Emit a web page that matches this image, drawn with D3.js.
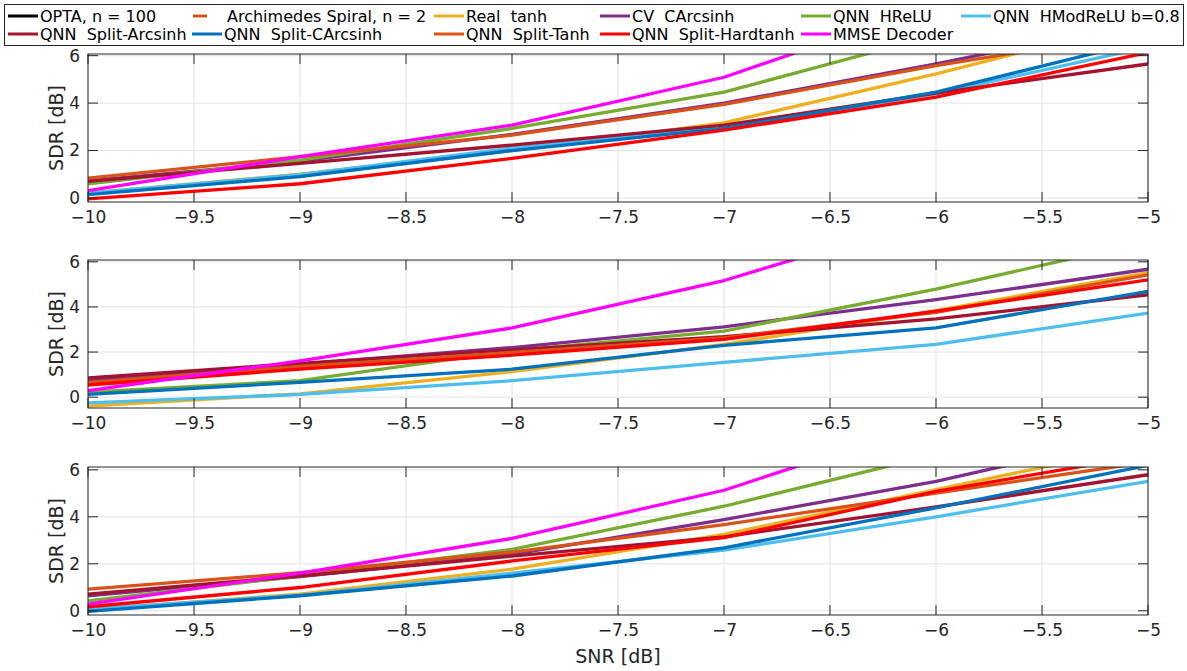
<!DOCTYPE html>
<html>
<head>
<meta charset="utf-8">
<script src="https://cdn.jsdelivr.net/npm/d3@7"></script>
<style>
  body { margin: 0; background: #fff; }
  svg { display: block; font-family: "DejaVu Sans", sans-serif; }
</style>
</head>
<body>
<div id="chart"></div>
<script>
var width = 1187,
  height = 671;

// SNR sample points (dB)
const snr = [-10, -9, -8, -7, -6, -5];
const xTicks = [-10, -9.5, -9, -8.5, -8, -7.5, -7, -6.5, -6, -5.5, -5];
const yTicks = [0, 2, 4, 6];

// SDR values, one row per subplot (top, middle, bottom)
const realTanh = [
  [0.2, 1.0, 2.0, 3.17, 5.23, 7.5],
  [-0.4, 0.15, 1.13, 2.34, 3.84, 5.52],
  [0.04, 0.71, 1.77, 3.25, 5.16, 7.04],
];
const cvCArcsinh = [
  [0.72, 1.55, 2.68, 4.0, 5.65, 7.48],
  [0.73, 1.46, 2.2, 3.12, 4.32, 5.67],
  [0.64, 1.45, 2.4, 3.88, 5.51, 7.54],
];
const qnnHReLU = [
  [0.6, 1.6, 2.93, 4.46, 6.86, 9.0],
  [0.22, 0.73, 2.05, 2.93, 4.79, 6.9],
  [0.42, 1.48, 2.61, 4.45, 6.65, 9.0],
];
const qnnHModReLU = [
  [0.2, 0.98, 2.1, 2.97, 4.39, 6.37],
  [-0.25, 0.12, 0.73, 1.54, 2.34, 3.73],
  [0.07, 0.66, 1.6, 2.58, 4.0, 5.51],
];
const splitArcsinh = [
  [0.7, 1.46, 2.23, 3.07, 4.42, 5.65],
  [0.85, 1.5, 2.1, 2.68, 3.47, 4.54],
  [0.71, 1.48, 2.33, 3.15, 4.42, 5.79],
];
const splitCArcsinh = [
  [0.14, 0.9, 2.0, 2.93, 4.46, 6.66],
  [0.12, 0.66, 1.24, 2.3, 3.07, 4.69],
  [-0.03, 0.64, 1.48, 2.68, 4.38, 6.19],
];
const splitTanh = [
  [0.84, 1.74, 2.65, 3.95, 5.58, 7.02],
  [0.66, 1.36, 1.98, 2.63, 3.76, 5.42],
  [0.92, 1.62, 2.5, 3.67, 5.01, 6.33],
];
const splitHardtanh = [
  [-0.04, 0.6, 1.67, 2.86, 4.25, 6.13],
  [0.54, 1.24, 1.86, 2.56, 3.81, 5.2],
  [0.17, 0.99, 2.12, 3.11, 5.08, 6.63],
];
const mmse = [
  [0.31, 1.74, 3.07, 5.09, 8.15, 11.0],
  [0.29, 1.61, 3.07, 5.17, 8.0, 11.0],
  [0.28, 1.6, 3.08, 5.13, 8.09, 11.0],
];

// legend order = plot order (OPTA and Archimedes have nothing inside the axes)
const names = [
  "OPTA, n = 100",
  "Archimedes Spiral, n = 2",
  "Real  tanh",
  "CV  CArcsinh",
  "QNN  HReLU",
  "QNN  HModReLU b=0.8",
  "QNN  Split-Arcsinh",
  "QNN  Split-CArcsinh",
  "QNN  Split-Tanh",
  "QNN  Split-Hardtanh",
  "MMSE Decoder",
];
const colors = [
  "#000000", "#D95319", "#EDB120", "#7E2F8E", "#77AC30", "#4DBEEE",
  "#A2142F", "#0072BD", "#D95319", "#FF0000", "#FF00FF",
];
const series = [
  null, null, realTanh, cvCArcsinh, qnnHReLU, qnnHModReLU,
  splitArcsinh, splitCArcsinh, splitTanh, splitHardtanh, mmse,
];
const yDomains = [[-0.17, 6.07], [-0.48, 6.08], [-0.18, 6.12]];

var svg = d3.select("#chart").append("svg")
  .attr("width", width)
  .attr("height", height);

var axColor = "#262626";
var left = 88, right = 1148, panelH = 148;
var panelTops = [54, 260, 467];
var tickLen = 10;

var x = d3.scaleLinear().domain([-10, -5]).range([left, right]);

panelTops.forEach(function (top, p) {
  var y = d3.scaleLinear().domain(yDomains[p]).range([top + panelH, top]);
  var g = svg.append("g");

  // grid
  g.selectAll(".gx").data(xTicks).enter().append("line")
    .attr("x1", d => x(d)).attr("x2", d => x(d))
    .attr("y1", top).attr("y2", top + panelH)
    .attr("stroke", "#e3e3e3").attr("stroke-width", 1);
  g.selectAll(".gy").data(yTicks).enter().append("line")
    .attr("x1", left).attr("x2", right)
    .attr("y1", d => y(d)).attr("y2", d => y(d))
    .attr("stroke", "#e3e3e3").attr("stroke-width", 1);

  // lines, clipped to the axes box
  svg.append("clipPath").attr("id", "clip" + p)
    .append("rect").attr("x", left).attr("y", top)
    .attr("width", right - left).attr("height", panelH);

  var line = d3.line()
    .x((d, i) => x(snr[i]))
    .y(d => y(d));

  var lg = g.append("g").attr("clip-path", "url(#clip" + p + ")");
  series.forEach(function (s, k) {
    if (!s) return;
    lg.append("path")
      .attr("d", line(s[p]))
      .attr("fill", "none")
      .attr("stroke", colors[k])
      .attr("stroke-width", 3.3)
      .attr("stroke-linejoin", "round");
  });

  // box + inward ticks
  g.append("rect")
    .attr("x", left).attr("y", top)
    .attr("width", right - left).attr("height", panelH)
    .attr("fill", "none").attr("stroke", axColor).attr("stroke-width", 1);
  xTicks.forEach(function (t) {
    g.append("line").attr("x1", x(t)).attr("x2", x(t))
      .attr("y1", top + panelH).attr("y2", top + panelH - tickLen)
      .attr("stroke", axColor);
    g.append("line").attr("x1", x(t)).attr("x2", x(t))
      .attr("y1", top).attr("y2", top + tickLen)
      .attr("stroke", axColor);
  });
  yTicks.forEach(function (t) {
    g.append("line").attr("x1", left).attr("x2", left + tickLen)
      .attr("y1", y(t)).attr("y2", y(t)).attr("stroke", axColor);
    g.append("line").attr("x1", right).attr("x2", right - tickLen)
      .attr("y1", y(t)).attr("y2", y(t)).attr("stroke", axColor);
  });

  // tick labels via d3 axes
  var xa = g.append("g")
    .attr("transform", "translate(0," + (top + panelH) + ")")
    .call(d3.axisBottom(x).tickValues(xTicks).tickSize(0).tickPadding(9)
      .tickFormat(d3.format("")));
  var ya = g.append("g")
    .attr("transform", "translate(" + left + ",0)")
    .call(d3.axisLeft(y).tickValues(yTicks).tickSize(0).tickPadding(8)
      .tickFormat(d3.format("d")));
  [xa, ya].forEach(function (a) {
    a.select(".domain").remove();
    a.selectAll("text")
      .attr("fill", axColor)
      .style("font-size", "17px")
      .style("font-family", "DejaVu Sans");
  });

  g.append("text")
    .attr("transform", "translate(63," + (top + panelH / 2) + ") rotate(-90)")
    .attr("text-anchor", "middle")
    .attr("fill", axColor)
    .style("font-size", "19px")
    .text("SDR [dB]");
});

svg.append("text")
  .attr("x", 618)
  .attr("y", 663)
  .attr("text-anchor", "middle")
  .attr("fill", axColor)
  .style("font-size", "19px")
  .text("SNR [dB]");

// Legend
svg.append("rect")
  .attr("x", 4.5).attr("y", 4.5)
  .attr("width", 1179).attr("height", 41)
  .attr("fill", "#fff").attr("stroke", axColor).attr("stroke-width", 1);

var colX = [8, 192, 434, 600, 801, 961];
var rowY = [16, 34];
names.forEach(function (n, k) {
  var r = k < 6 ? 0 : 1,
    c = k < 6 ? k : k - 6;
  var lx = colX[c], ly = rowY[r];
  var tx = lx + 32;
  if (k === 1) {
    // Archimedes: dashed style, single dash in the sample
    svg.append("line").attr("x1", lx + 1).attr("x2", lx + 15)
      .attr("y1", ly).attr("y2", ly)
      .attr("stroke", colors[k]).attr("stroke-width", 3);
    tx = lx + 35;
  } else {
    svg.append("line").attr("x1", lx).attr("x2", lx + 30)
      .attr("y1", ly).attr("y2", ly)
      .attr("stroke", colors[k]).attr("stroke-width", 3);
  }
  svg.append("text")
    .attr("x", tx).attr("y", ly)
    .attr("dy", "0.36em")
    .attr("fill", "#000")
    .style("font-size", "16px")
    .style("white-space", "pre")
    .attr("xml:space", "preserve")
    .text(n);
});
</script>
</body>
</html>
